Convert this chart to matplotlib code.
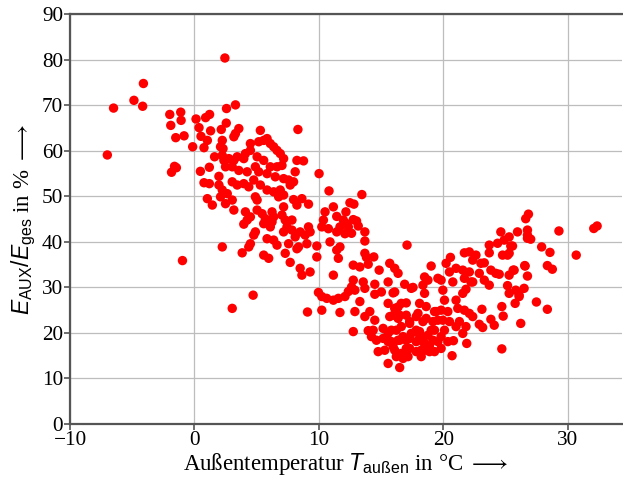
import matplotlib
matplotlib.use("Agg")
import matplotlib.pyplot as plt

# Outdoor temperature (°C) and auxiliary energy share (%)
temperature = [
    # left cluster (x < 2.9)
    2.45, -4.1, -4.86, -4.16, -6.5, -7.0, -1.98, -1.1, -1.07, -1.9, -1.5, -0.83, -0.14,
    -1.6, -1.45, -1.84, 0.48, 1.2, -0.96, 2.24, 2.58, 0.13, 0.9, 1.22, 0.37, 0.53, 1.3,
    1.04, 0.77, 2.16, 2.56, 2.24, 2.1, 2.3, 1.62, 2.24, 2.37, 2.77, 2.5, 1.97, 1.97,
    2.24, 2.64, 2.1, 1.04, 1.44, 2.5, 0.77, 1.2,
    # 3..12 cluster
    3.3, 3.57, 3.3, 3.17, 5.3, 8.32,
    4.50, 5.17, 5.57, 5.84, 6.10, 6.37, 6.64, 6.90, 7.17, 7.04, 6.64, 6.10, 5.57, 5.04,
    4.50, 4.10, 3.97, 3.44, 3.17, 3.04, 3.57, 4.24, 4.90, 5.17, 5.84, 6.50, 7.17, 7.57,
    8.10, 8.24, 8.77, 7.97, 7.70, 6.90, 6.37, 5.84, 5.30, 4.77, 4.37, 3.97, 3.44, 3.04,
    7.17, 6.77, 4.90, 5.04, 7.97, 8.64, 8.24, 9.17, 10.02, 10.82, 3.04, 3.17, 4.10, 4.50,
    4.24, 3.97, 5.04, 5.44, 5.70, 6.24, 6.37, 6.24, 5.57, 6.10, 7.17, 7.04, 7.30, 7.84,
    7.44, 7.17, 7.84, 8.10, 8.50, 8.90, 9.17, 9.30, 4.90, 4.77, 4.50, 4.37, 5.84, 6.37,
    6.64, 7.57, 8.37, 8.24, 9.04, 9.84, 7.30, 5.57, 5.97, 3.84, 7.70, 8.50, 8.64, 9.30,
    9.84, 10.50, 10.37, 10.24, 10.77, 11.17, 10.90, 11.44, 11.97, 12.24, 11.70, 11.44,
    12.10, 11.70, 11.44, 11.57, 11.17, 4.72, 3.04, 9.09, 9.97, 10.24, 10.64, 11.17,
    11.57, 12.10, 10.24, 11.70,
    # 12..20 upper
    13.46, 12.50, 12.82, 12.18, 12.77, 13.03, 12.37, 13.17, 12.63, 13.70, 13.70, 13.70,
    13.83, 14.42, 17.09,
    # 12..20 lower
    12.77, 13.30, 13.97, 14.85, 15.70, 16.10, 16.37, 19.03, 18.50, 18.77, 19.57, 18.37,
    12.77, 12.63, 12.90, 13.57, 13.70, 14.50, 15.57, 16.90, 17.43, 18.50, 12.37, 14.50,
    15.03, 15.97, 13.30, 12.90, 14.10, 13.70, 14.50, 15.57, 16.10, 16.63, 17.03, 18.10,
    18.63, 19.43, 16.0, 16.37, 17.03, 17.83, 17.30, 18.37, 19.17, 12.77, 13.97, 14.37,
    15.17, 15.57, 16.23, 16.77, 17.43, 18.10, 18.77, 19.30, 14.23, 14.63, 15.17, 15.83,
    16.37, 17.03, 17.83, 18.50, 19.17, 14.77, 15.30, 15.97, 16.63, 17.30, 18.23, 18.90,
    15.57, 16.50, 16.23, 16.77,
    17.57, 16.10, 16.37, 17.97, 19.30, 15.70, 16.50, 17.30, 18.63, 19.57, 15.83, 16.63,
    17.83, 18.10, 19.03, 15.57, 16.50, 17.30, 18.37, 18.90, 19.57, 16.10, 17.03, 17.83,
    18.50, 19.30, 17.17, 18.23,
    # 20..24.5
    23.70, 24.37, 21.70, 22.10, 22.63, 23.70, 20.58, 20.23, 22.37, 23.03, 23.30, 20.50,
    21.03, 21.57, 22.10, 22.90, 23.83, 24.23, 20.77, 21.70, 22.37, 23.30, 23.70, 19.83,
    19.97, 20.10, 21.03, 21.57, 21.83, 22.23, 19.83, 20.37, 21.17, 21.70, 22.10, 22.37,
    23.11, 23.83, 24.10, 22.90, 23.17, 19.97, 20.50, 21.03, 21.30, 21.83, 21.57, 20.10,
    19.83, 20.37, 20.82, 21.89, 19.83, 20.71,
    # right side
    26.63, 26.85, 25.97, 26.77, 24.63, 29.30, 25.30, 24.90, 25.57, 26.77, 27.03, 27.91,
    28.58, 30.69, 32.1, 32.37, 24.77, 25.17, 25.30, 26.55, 28.37, 28.77, 24.50, 25.30,
    25.62, 26.77, 25.17, 26.50, 25.30, 25.83, 26.10, 25.78, 27.49, 28.37, 24.71, 24.82,
    26.23, 24.71, 26.77, 25.43, 26.58, 25.70, 26.10,
]

share = [
    80.4, 74.8, 71.1, 69.8, 69.4, 59.1, 68.0, 68.5, 66.7, 65.6, 62.9, 63.3, 60.9,
    56.6, 56.3, 55.3, 55.5, 56.4, 35.9, 38.9, 69.3, 67.0, 67.3, 68.0, 65.1, 63.2, 64.4,
    62.3, 60.7, 64.7, 66.1, 62.3, 60.9, 60.5, 58.7, 59.0, 57.9, 58.3, 56.5, 54.4, 52.5,
    51.4, 50.6, 49.9, 49.5, 48.1, 48.4, 53.0, 52.8,
    70.1, 64.9, 63.8, 63.1, 64.5, 64.7,
    61.6, 62.0, 62.3, 62.7, 61.6, 60.9, 60.1, 59.4, 58.3, 56.8, 56.5, 56.5, 57.9, 58.7,
    60.1, 59.4, 58.3, 58.7, 57.9, 56.5, 55.7, 55.4, 56.5, 55.4, 55.0, 54.3, 53.9, 53.6,
    55.4, 57.9, 57.8, 53.2, 52.5, 51.4, 51.0, 51.4, 52.5, 53.6, 52.1, 52.8, 52.5, 53.2,
    50.3, 49.9, 49.9, 49.2, 49.3, 49.5, 48.1, 48.3, 55.0, 51.2, 49.2, 47.0, 46.6, 45.5,
    44.8, 43.9, 47.0, 46.2, 45.1, 46.6, 45.5, 44.4, 44.0, 43.3, 47.7, 45.9, 44.8, 44.8,
    43.3, 42.2, 42.6, 41.1, 42.2, 41.5, 43.3, 42.2, 42.2, 41.5, 39.6, 38.9, 40.7, 40.4,
    39.3, 39.6, 38.9, 38.5, 39.6, 39.1, 37.5, 37.1, 36.4, 37.6, 35.5, 34.2, 32.7, 33.4,
    36.7, 46.6, 44.8, 43.3, 42.9, 47.7, 40.0, 45.6, 44.8, 44.0, 43.3, 42.2,
    41.8, 38.9, 38.2, 36.4, 32.7, 28.3, 25.4, 24.6, 28.9, 28.0, 27.6, 27.2,
    27.6, 28.0, 25.0, 24.5,
    50.4, 48.6, 48.3, 46.6, 44.9, 44.6, 43.3, 43.5, 41.9, 42.2, 40.2, 37.5,
    36.6, 36.7, 39.3,
    34.9, 34.5, 35.1, 33.8, 35.3, 34.2, 33.1, 34.7, 32.3, 31.6, 32.0, 30.5,
    31.6, 30.1, 29.4, 31.2, 29.8, 30.7, 31.2, 30.7, 29.8, 28.7, 29.1, 28.5,
    29.0, 28.8, 26.9, 24.7, 24.7, 23.6, 22.8, 26.5, 25.4, 26.5, 26.6, 26.5,
    25.8, 24.7, 23.9, 23.2, 23.9, 23.6, 22.1, 22.5, 22.5, 20.3, 20.5, 20.6,
    21.0, 19.9, 20.6, 19.2, 19.9, 20.3, 19.5, 20.6, 19.2, 18.4, 18.8, 18.1,
    18.4, 18.4, 18.1, 17.7, 18.4, 15.9, 16.2, 17.0, 15.5, 16.6, 16.2, 15.9,
    13.3, 12.4, 14.8, 14.4,
    30.0, 29.0, 25.7, 24.3, 24.7, 23.6, 23.9, 22.5, 23.2, 22.8, 20.6, 21.4,
    20.6, 19.5, 20.6, 18.1, 18.4, 18.8, 18.1, 17.3, 18.1, 16.2, 16.6, 15.9,
    16.2, 15.9, 14.8, 14.8,
    39.3, 39.7, 37.6, 37.8, 37.1, 37.6, 36.6, 35.3, 36.0, 35.3, 35.4, 33.4,
    34.2, 33.8, 33.4, 33.1, 33.8, 33.1, 31.2, 32.0, 31.2, 31.6, 30.5, 31.6,
    29.4, 27.2, 27.2, 28.7, 29.6, 31.2, 25.0, 24.7, 25.4, 25.0, 24.3, 23.6,
    25.2, 23.0, 21.7, 21.9, 21.2, 22.8, 22.5, 21.4, 22.5, 21.4, 19.9, 20.6,
    19.2, 18.1, 18.3, 17.7, 16.6, 15.0,
    45.1, 46.1, 42.2, 42.6, 42.2, 42.4, 41.1, 40.4, 39.1, 40.8, 40.6, 38.9,
    37.7, 37.1, 42.95, 43.5, 37.1, 37.1, 37.5, 34.8, 34.8, 34.0, 32.9, 32.7,
    33.8, 32.5, 30.4, 29.8, 28.7, 29.4, 28.3, 26.5, 26.8, 25.2, 25.8, 23.7,
    22.1, 16.5, 41.5, 39.1, 34.7, 33.8, 28.0,
]

x_ticks = [-10, 0, 10, 20, 30]
y_ticks = [0, 10, 20, 30, 40, 50, 60, 70, 80, 90]

plt.rcParams['mathtext.fontset'] = 'custom'
plt.rcParams['mathtext.rm'] = 'Liberation Sans'
plt.rcParams['mathtext.it'] = 'Liberation Sans:italic'
plt.rcParams['mathtext.bf'] = 'Liberation Sans:bold'

fig = plt.figure(figsize=(6.23, 4.80), dpi=100)
ax = fig.add_axes([70/623, 1 - 424/480, 1 - 70/623 - 0.001, (424 - 14.3)/480])

ax.scatter(temperature, share, s=46, color='#ff0000', edgecolors='none', zorder=3)

ax.set_xlim(-10, 34.4)
ax.set_ylim(0, 90)
ax.set_xticks(x_ticks)
ax.set_yticks(y_ticks)
ax.set_xticklabels([str(v).replace('-', '\u2212') for v in x_ticks])
ax.grid(True, color='#bdbdbd', linewidth=0.9, zorder=0)
ax.set_axisbelow(True)

for side in ['left', 'bottom', 'top']:
    ax.spines[side].set_color('#555555')
    ax.spines[side].set_linewidth(1.6)
ax.spines['right'].set_visible(False)
ax.tick_params(axis='both', direction='out', length=4, width=1.2, color='#555555',
               labelsize=15.3, pad=1)
for lbl in ax.get_xticklabels() + ax.get_yticklabels():
    lbl.set_fontfamily('Liberation Serif')

ax.set_xlabel('Außentemperatur $T_{\\mathrm{außen}}$ in °C $\\longrightarrow$',
              fontsize=16.5, family='Liberation Serif', labelpad=1)
ax.set_ylabel('$E_{\\mathrm{AUX}}/E_{\\mathrm{ges}}$ in % $\\longrightarrow$',
              fontsize=16.5, family='Liberation Serif', labelpad=3)

fig.savefig('out.png', dpi=100)
